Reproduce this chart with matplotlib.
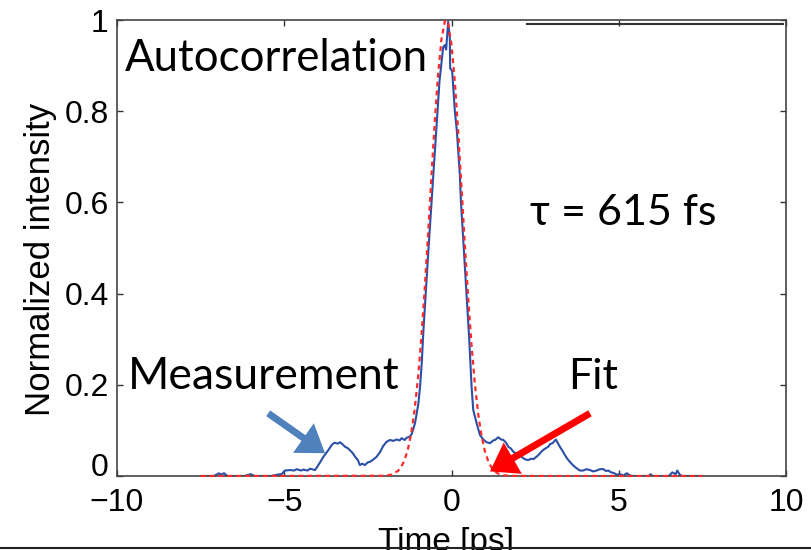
import matplotlib
matplotlib.use("Agg")
import matplotlib.pyplot as plt
from matplotlib.lines import Line2D
from matplotlib.patches import FancyArrowPatch

# Measured autocorrelation trace (time in ps, normalized intensity)
meas_t = [-7.50, -7.10, -6.95, -6.90, -6.80, -6.70, -6.20, -6.00, -5.90, -5.40,
          -5.20, -5.08, -4.98, -4.83, -4.70, -4.63, -4.50, -4.43, -4.30, -4.23,
          -4.08, -3.98, -3.83, -3.68, -3.58, -3.50, -3.40, -3.33, -3.25, -3.18,
          -3.10, -3.03, -2.95, -2.88, -2.80, -2.74, -2.67, -2.59, -2.50, -2.44,
          -2.34, -2.24, -2.14, -2.04, -1.94, -1.84, -1.74, -1.64, -1.55, -1.49,
          -1.40, -1.34, -1.25, -1.19, -1.09, -0.99, -0.94, -0.89, -0.84, -0.69,
          -0.54, -0.45, -0.36, -0.25, -0.20, -0.16, -0.10, -0.05, -0.04, 0.02,
          0.10, 0.16, 0.25, 0.28, 0.37, 0.45, 0.53, 0.60, 0.65, 0.75,
          0.85, 0.95, 1.05, 1.15, 1.25, 1.30, 1.40, 1.48, 1.55, 1.62,
          1.70, 1.78, 1.85, 1.92, 2.00, 2.08, 2.15, 2.22, 2.30, 2.38,
          2.45, 2.52, 2.60, 2.67, 2.74, 2.82, 2.89, 2.95, 3.02, 3.08,
          3.12, 3.18, 3.24, 3.32, 3.39, 3.46, 3.54, 3.64, 3.74, 3.84,
          3.94, 4.04, 4.14, 4.24, 4.34, 4.44, 4.54, 4.62, 4.69, 4.77,
          4.84, 4.94, 5.04, 5.14, 5.24, 5.34, 5.44, 5.90, 5.95, 6.00,
          6.50, 6.60, 6.70, 6.75, 6.82, 6.90, 7.50]
meas_y = [0.000, 0.000, 0.006, 0.003, 0.006, 0.000, 0.000, 0.004, 0.000, 0.000,
          0.003, 0.004, 0.012, 0.013, 0.012, 0.015, 0.012, 0.014, 0.012, 0.016,
          0.013, 0.024, 0.042, 0.057, 0.068, 0.073, 0.071, 0.074, 0.069, 0.064,
          0.061, 0.056, 0.050, 0.042, 0.035, 0.024, 0.027, 0.024, 0.030, 0.031,
          0.036, 0.042, 0.052, 0.066, 0.075, 0.079, 0.077, 0.080, 0.078, 0.083,
          0.079, 0.084, 0.086, 0.092, 0.116, 0.159, 0.196, 0.247, 0.318, 0.496,
          0.665, 0.770, 0.865, 0.940, 0.945, 0.935, 0.996, 0.960, 0.894, 0.888,
          0.800, 0.757, 0.660, 0.605, 0.496, 0.400, 0.300, 0.196, 0.145, 0.116,
          0.090, 0.080, 0.074, 0.072, 0.078, 0.079, 0.085, 0.080, 0.079, 0.074,
          0.064, 0.060, 0.053, 0.050, 0.046, 0.043, 0.039, 0.036, 0.035, 0.038,
          0.037, 0.041, 0.046, 0.052, 0.057, 0.061, 0.064, 0.070, 0.072, 0.077,
          0.080, 0.072, 0.064, 0.055, 0.046, 0.038, 0.031, 0.023, 0.017, 0.012,
          0.012, 0.015, 0.013, 0.010, 0.012, 0.015, 0.015, 0.011, 0.012, 0.008,
          0.007, 0.003, 0.004, 0.001, 0.006, 0.001, 0.000, 0.000, 0.004, 0.000,
          0.000, 0.008, 0.004, 0.012, 0.003, 0.000, 0.000]

# Fitted profile
fit_t = [-7.5, -2.0, -1.8, -1.6, -1.5, -1.4, -1.3, -1.2, -1.1, -1.0,
         -0.9, -0.8, -0.7, -0.6, -0.5, -0.4, -0.3, -0.2, -0.16, -0.1,
         0.0, 0.1, 0.2, 0.3, 0.4, 0.5, 0.6, 0.7, 0.8, 0.9,
         1.0, 1.1, 1.2, 1.3, 1.4, 1.6, 1.8, 7.5]
fit_y = [0.0, 0.0006, 0.0029, 0.0111, 0.0203, 0.0355, 0.0596, 0.0957, 0.147, 0.216,
         0.305, 0.411, 0.531, 0.657, 0.778, 0.882, 0.958, 0.997, 1.000, 0.992,
         0.946, 0.864, 0.755, 0.632, 0.506, 0.389, 0.286, 0.201, 0.135, 0.0873,
         0.0539, 0.0319, 0.0181, 0.0098, 0.0051, 0.0012, 0.0002, 0.0]

x_ticks = [-10, -5, 0, 5, 10]
y_ticks = [0, 0.2, 0.4, 0.6, 0.8, 1]
y_tick_labels = ["0", "0.2", "0.4", "0.6", "0.8", "1"]

W, H = 811, 550
fig = plt.figure(figsize=(W / 100, H / 100), dpi=100)
ax = fig.add_axes([117 / W, (H - 476) / H, (786 - 117) / W, (476 - 20) / H])

ax.plot(meas_t, meas_y, color="#2b4ea6", lw=1.5, zorder=2)
ax.plot(fit_t, fit_y, color="#ff2a2a", lw=1.6, ls=(0, (2.2, 1.8)), zorder=3,
        clip_on=False)

ax.set_xlim(-10, 10)
ax.set_ylim(0, 1)
ax.set_xticks(x_ticks)
ax.set_xticklabels(["\u2212" + str(-v) if v < 0 else str(v) for v in x_ticks])
ax.set_yticks(y_ticks)
ax.set_yticklabels(y_tick_labels)

tick_font = "Liberation Sans"
for lab in ax.get_xticklabels() + ax.get_yticklabels():
    lab.set_fontfamily(tick_font)
    lab.set_fontsize(23)
# the zero label sits on the bottom axis line
ax.get_yticklabels()[0].set_va("baseline")
ax.tick_params(direction="in", length=4.5, width=1.0, color="#333333",
               top=True, right=True)
ax.tick_params(axis="x", pad=8.5)
ax.tick_params(axis="y", pad=6)
for sp in ax.spines.values():
    sp.set_color("#444444")
    sp.set_linewidth(1.2)

ax.set_ylabel("Normalized intensity", fontfamily=tick_font, fontsize=25)
ax.yaxis.set_label_coords((57 - 117) / 669, (476 - 259) / 456)
ax.set_xlabel("Time [ps]", fontfamily=tick_font, fontsize=24, va="top")
ax.xaxis.set_label_coords((446 - 117) / 669, (476 - 527) / 456)

note_font = ["Lato", "DejaVu Sans"]
ax.text(-9.76, 0.888, "Autocorrelation", fontfamily=note_font, fontsize=31.5,
        va="baseline", ha="left")
ax.text(2.35, 0.55, "\u03c4 = 615 fs", fontfamily=note_font, fontsize=31,
        va="baseline", ha="left")
ax.text(-9.67, 0.191, "Measurement", fontfamily=note_font, fontsize=32,
        va="baseline", ha="left")
ax.text(3.48, 0.191, "Fit", fontfamily=note_font, fontsize=31,
        va="baseline", ha="left")

# Pointer arrows
style = "simple,head_length=19,head_width=26,tail_width=5"
ax.add_patch(FancyArrowPatch((-5.48, 0.1375), (-3.78, 0.05), arrowstyle=style,
                             mutation_scale=1, color="#4f81bd", lw=0,
                             shrinkA=0, shrinkB=0, zorder=4, clip_on=False))
ax.add_patch(FancyArrowPatch((4.14, 0.1375), (1.15, 0.01), arrowstyle=style,
                             mutation_scale=1, color="#ff0000", lw=0,
                             shrinkA=0, shrinkB=0, zorder=4, clip_on=False))

# Rules drawn across the figure
fig.add_artist(Line2D([527 / W, 783 / W], [1 - 24 / H] * 2, color="#333333",
                      lw=1.5, zorder=10))
fig.add_artist(Line2D([0, 1], [1 - 548 / H] * 2, color="#222222", lw=1.5,
                      zorder=10))

fig.savefig("out.png", dpi=100)
